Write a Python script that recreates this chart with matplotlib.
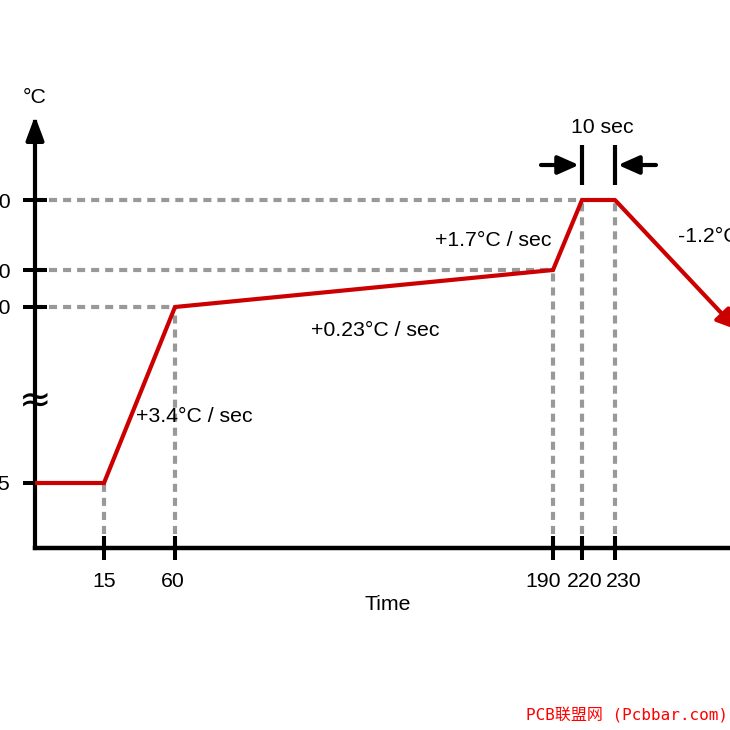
import numpy as np
import matplotlib.pyplot as plt

# reflow profile (time in s, temperature in deg C)
time_s = [0, 15, 60, 190, 220, 230]
temp_c = [25, 25, 180, 210, 260, 260]
cool_end = (313, 160)
x_ticks = [15, 60, 190, 220, 230]
y_ticks = [25, 180, 210, 260]
rate_labels = ['+3.4°C / sec', '+0.23°C / sec', '+1.7°C / sec', '-1.2°C / sec']
hold_label = '10 sec'

# schematic (non linear) axis layout, pixel positions of breakpoints
x_brk_t = [-100, 0, 15, 60, 190, 220, 230, 313, 600]
x_brk_px = [-425, 35, 104, 175, 553, 582, 615, 737, 1159]
y_brk_T = [-200, 0, 25, 180, 210, 260, 600]
y_brk_px = [1068, 548, 483, 307, 270, 200, -276]


def fwd_x(t):
    return np.interp(t, x_brk_t, x_brk_px)


def inv_x(p):
    return np.interp(p, x_brk_px, x_brk_t)


def fwd_y(T):
    return -np.interp(T, y_brk_T, y_brk_px)


def inv_y(p):
    return np.interp(-np.asarray(p), y_brk_px[::-1], y_brk_T[::-1])


FS = 15.3
plt.rcParams['font.family'] = ['Liberation Sans', 'DejaVu Sans']
plt.rcParams['lines.scale_dashes'] = False
plt.rcParams['lines.dashed_pattern'] = [5.8, 4.3]

fig = plt.figure(figsize=(7.3, 7.3), dpi=100)
ax = fig.add_axes([0, 0, 1, 1])
ax.patch.set_visible(False)
ax.set_xscale('function', functions=(fwd_x, inv_x))
ax.set_yscale('function', functions=(fwd_y, inv_y))
ax.set_xlim(inv_x(0), inv_x(730))
ax.set_ylim(inv_y(-730), inv_y(0))
ax.set_axisbelow(False)

for s in ['top', 'right', 'left']:
    ax.spines[s].set_visible(False)
ax.spines['left'].set_position(('data', 0))
ax.spines['bottom'].set_position(('data', 0))
ax.spines['bottom'].set_bounds(0, 600)
ax.spines['bottom'].set_linewidth(3.2)
ax.spines['bottom'].set_capstyle('projecting')

# y axis with arrow
ax.annotate('', xy=(0, 320), xytext=(0, 0),
            arrowprops=dict(arrowstyle='-|>,head_length=0.4,head_width=0.15',
                            mutation_scale=36, color='black', lw=3,
                            shrinkA=0, shrinkB=0, capstyle='projecting'),
            annotation_clip=False)
ax.text(0, 333, '°C', ha='center', va='center', fontsize=FS)
ax.text(0, 98, '≈', ha='center', va='center', fontsize=28,
        family='DejaVu Sans')

ax.set_xticks(x_ticks)
ax.set_xticklabels([])
ax.set_yticks(y_ticks)
ax.set_yticklabels([str(v) for v in y_ticks])
ax.tick_params(axis='both', direction='inout', length=17.3, width=2.9,
               labelsize=FS)
ax.tick_params(axis='y', pad=8.6)
ax.minorticks_off()

x_offsets = [0, -2, -10, 3, 9]
for t, dx in zip(x_ticks, x_offsets):
    ax.annotate(str(t), xy=(t, 0), xytext=(dx * 0.72, -17.5),
                textcoords='offset points', ha='center', va='top',
                fontsize=FS)
ax.text(388 / 730, 1 - 604 / 730, 'Time', transform=ax.transAxes,
        ha='center', va='center', fontsize=FS)

# guide lines
ax.hlines(temp_c[2:5], 0, time_s[2:5], colors='#999999', lw=3,
          linestyles='dashed', zorder=2)
ax.vlines(time_s[1:], 0, temp_c[1:], colors='#999999', lw=3,
          linestyles='dashed', zorder=2)

# profile
red = '#cc0000'
ax.plot(time_s, temp_c, color=red, lw=3, solid_joinstyle='miter',
        solid_capstyle='butt', zorder=4)
ax.annotate('', xy=cool_end, xytext=(time_s[-1], temp_c[-1]),
            arrowprops=dict(arrowstyle='-|>,head_length=0.4,head_width=0.2',
                            mutation_scale=30, color=red, lw=3,
                            shrinkA=0, shrinkB=0),
            annotation_clip=False, zorder=4)

# rate labels, offset from segment midpoints
mids = [((time_s[1] + time_s[2]) / 2, (temp_c[1] + temp_c[2]) / 2),
        ((time_s[2] + time_s[3]) / 2, (temp_c[2] + temp_c[3]) / 2),
        ((time_s[3] + time_s[4]) / 2, (temp_c[3] + temp_c[4]) / 2),
        (time_s[5], temp_c[5])]
offs = [(54.5, -22), (11, -41.5), (-74.5, -5), (63, -37)]
aligns = ['center', 'center', 'center', 'left']
for lab, m, o, ha in zip(rate_labels, mids, offs, aligns):
    ax.annotate(lab, xy=m, xytext=(o[0] * 0.72, o[1] * 0.72),
                textcoords='offset points', ha=ha, va='center',
                fontsize=FS, annotation_clip=False)

# 10 sec hold marker
ax.vlines(time_s[4:6], 271, 299, colors='black', lw=3)
for t, dx in [(time_s[4], -41), (time_s[5], 41)]:
    ax.annotate('', xy=(t, 285), xytext=(dx * 0.72, 0),
                textcoords='offset points',
                arrowprops=dict(arrowstyle='-|>,head_length=0.45,head_width=0.2',
                                mutation_scale=28, color='black', lw=3,
                                shrinkA=0, shrinkB=2.2))
ax.annotate(hold_label, xy=((time_s[4] + time_s[5]) / 2, 312),
            xytext=(2.5, 0), textcoords='offset points',
            ha='center', va='center', fontsize=FS)

fig.text(728 / 730, 1 - 715 / 730, 'PCB联盟网 (Pcbbar.com)', color='#ff0000',
         ha='right', va='center', fontsize=11.5,
         family=['DejaVu Sans Mono', 'Noto Sans CJK SC'])

fig.savefig('out.png', dpi=100)
